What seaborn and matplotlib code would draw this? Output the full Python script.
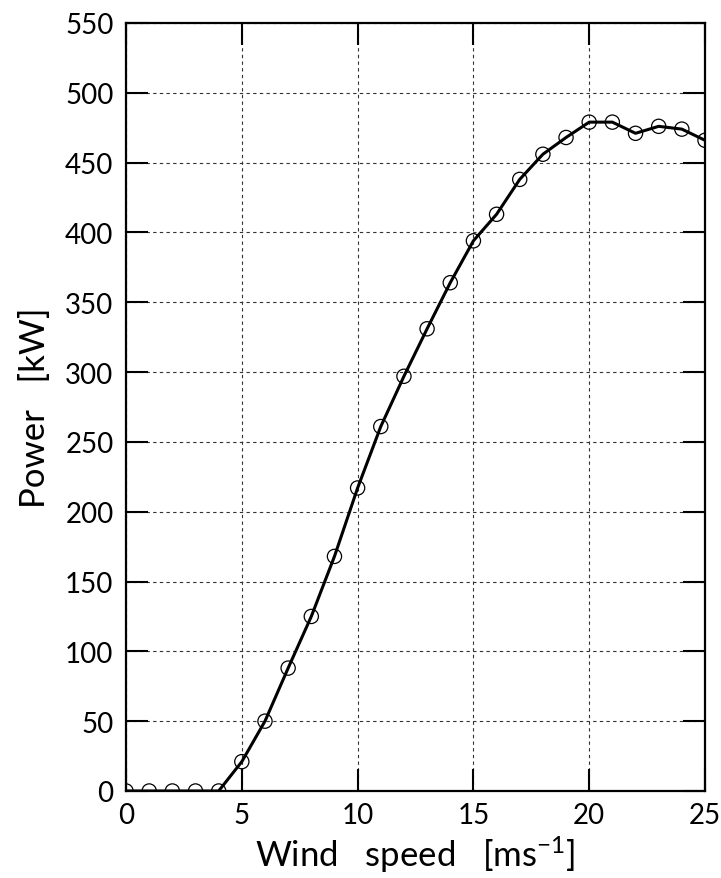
import matplotlib
matplotlib.use("Agg")
import matplotlib.pyplot as plt
import seaborn as sns
import pandas as pd

wind_speed = [0, 1, 2, 3, 4, 5, 6, 7, 8, 9, 10, 11, 12, 13, 14, 15, 16, 17, 18, 19, 20, 21, 22, 23, 24, 25]
power_kw = [0, 0, 0, 0, 0, 21, 50, 88, 125, 168, 217, 261, 297, 331, 364, 394, 413, 438, 456, 468, 479, 479, 471, 476, 474, 466]
x_ticks = [0, 5, 10, 15, 20, 25]
y_ticks = [0, 50, 100, 150, 200, 250, 300, 350, 400, 450, 500, 550]

df = pd.DataFrame({"wind": wind_speed, "power": power_kw})

sns.set_theme(style="white")
plt.rcParams["font.family"] = ["Lato", "DejaVu Sans"]
plt.rcParams["font.weight"] = "normal"
plt.rcParams["mathtext.fontset"] = "custom"
plt.rcParams["mathtext.rm"] = "Lato"
plt.rcParams["mathtext.it"] = "Lato"

fig = plt.figure(figsize=(7.21, 8.79), dpi=100)
ax = fig.add_axes([0.1748, 0.0990, 0.8030, 0.8737])

sns.lineplot(data=df, x="wind", y="power", ax=ax, color="black", linewidth=2.2, zorder=3)
sns.scatterplot(data=df, x="wind", y="power", ax=ax, marker="o", s=105,
                facecolors="none", edgecolors="black", linewidth=0.9, zorder=4)

ax.set_xlim(0, 25)
ax.set_ylim(0, 550)
ax.set_xticks(x_ticks)
ax.set_yticks(y_ticks)
ax.grid(True, color="#333333", linestyle=(0, (3, 3)), linewidth=0.8)
ax.tick_params(direction="in", length=16, width=1.5, top=True, right=True,
               bottom=True, left=True, labelsize=20, colors="black")
ax.tick_params(axis="y", pad=9)
ax.tick_params(axis="x", pad=8)
for sp in ax.spines.values():
    sp.set_color("black")
    sp.set_linewidth(1.6)

ax.set_xlabel("Wind   speed   [ms$^{-1}$]", fontsize=25, labelpad=4, color="black")
ax.set_ylabel("Power   [kW]", fontsize=25, labelpad=10, color="black")

fig.savefig("out.png", dpi=100)
